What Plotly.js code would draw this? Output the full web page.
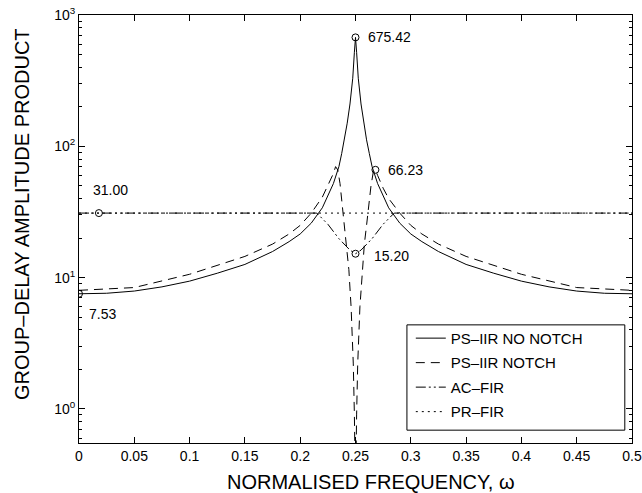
<!DOCTYPE html>
<html>
<head>
<meta charset="utf-8">
<script src="https://cdn.plot.ly/plotly-3.0.1.min.js"></script>
<style>html,body{margin:0;padding:0;background:#fff;}#chart{width:642px;height:493px;}</style>
</head>
<body>
<div id="chart"></div>
<script>
// ---- data ----
const omegaNoNotch = [0, 0.025, 0.05, 0.075, 0.1, 0.125, 0.15, 0.175, 0.19, 0.2, 0.21, 0.22, 0.23, 0.235, 0.2375, 0.24, 0.2425, 0.245, 0.2475, 0.249, 0.25,
  0.251, 0.2525, 0.255, 0.2575, 0.26, 0.2625, 0.265, 0.27, 0.28, 0.29, 0.3, 0.31, 0.325, 0.35, 0.375, 0.4, 0.425, 0.45, 0.475, 0.5];
const gdNoNotch = [7.53, 7.6, 7.9, 8.5, 9.4, 10.8, 12.6, 15.8, 18.8, 21.5, 26, 34, 52, 70, 88, 112, 150, 210, 330, 520, 675.42,
  520, 330, 210, 150, 112, 88, 70, 52, 34, 26, 21.5, 18.8, 15.8, 12.6, 10.8, 9.4, 8.5, 7.9, 7.6, 7.53];

const omegaNotch = [0, 0.05, 0.1, 0.15, 0.175, 0.19, 0.2, 0.21, 0.22, 0.225, 0.23, 0.232, 0.234, 0.236, 0.238, 0.24, 0.242, 0.244, 0.246, 0.248, 0.249, 0.25,
  0.251, 0.252, 0.254, 0.256, 0.258, 0.26, 0.262, 0.264, 0.266, 0.268, 0.27, 0.275, 0.28, 0.29, 0.3, 0.31, 0.325, 0.35, 0.4, 0.45, 0.5];
const gdNotch = [8.0, 8.4, 10.6, 14.5, 18, 21.5, 25, 31, 41, 50, 62, 70, 66, 52, 36, 25, 18, 11.5, 6, 2.2, 0.9, 0.2,
  0.9, 2.2, 6, 11.5, 18, 25, 36, 50, 63, 66.23, 60, 48, 40, 31, 25, 21.5, 18, 14.5, 10.6, 8.4, 8.0];

const omegaAC = [0, 0.215, 0.225, 0.235, 0.245, 0.25, 0.255, 0.265, 0.275, 0.285, 0.5];
const gdAC = [31, 31, 25.5, 19.8, 16.2, 15.2, 16.2, 19.8, 25.5, 31, 31];

const omegaPR = [0, 0.5];
const gdPR = [31, 31];

const markX = [0, 0.018, 0.25, 0.268, 0.25];
const markY = [7.53, 31.00, 675.42, 66.23, 15.20];
const markText = ["7.53", "31.00", "675.42", "66.23", "15.20"];

const seriesNames = ["PS\u2013IIR NO NOTCH", "PS\u2013IIR NOTCH", "AC\u2013FIR", "PR\u2013FIR"];
const xTitle = "NORMALISED FREQUENCY, \u03c9";
const yTitle = "GROUP\u2013DELAY AMPLITUDE PRODUCT";
const xTickVals = [0, 0.05, 0.1, 0.15, 0.2, 0.25, 0.3, 0.35, 0.4, 0.45, 0.5];
const xTickText = ["0", "0.05", "0.1", "0.15", "0.2", "0.25", "0.3", "0.35", "0.4", "0.45", "0.5"];
const yTickVals = [1, 10, 100, 1000];
const yTickText = ["10<sup>0</sup>", "10<sup>1</sup>", "10<sup>2</sup>", "10<sup>3</sup>"];
const yMinorVals = [0.6, 0.7, 0.8, 0.9, 2, 3, 4, 5, 6, 7, 8, 9, 20, 30, 40, 50, 60, 70, 80, 90, 200, 300, 400, 500, 600, 700, 800, 900];

// ---- styling ----
const FONT = "Liberation Sans, Arial, Helvetica, sans-serif";
const line = (dash) => ({color: "#000", width: 1, dash: dash});

const traces = [
  {x: omegaNoNotch, y: gdNoNotch, name: seriesNames[0], mode: "lines", line: line("solid"), legendgroup: "a"},
  {x: omegaNotch, y: gdNotch, name: seriesNames[1], mode: "lines", line: line("9px,6px"), legendgroup: "b"},
  {x: omegaAC, y: gdAC, name: seriesNames[2], mode: "lines", line: line("10px,3px,2px,3px,2px,3px"), legendgroup: "c"},
  {x: omegaPR, y: gdPR, name: seriesNames[3], mode: "lines", line: line("2px,4px"), legendgroup: "d"},
  {x: markX, y: markY, mode: "markers", showlegend: false, hoverinfo: "skip",
   marker: {symbol: "circle-open", size: 7, color: "#000", line: {width: 1, color: "#000"}}}
];

const shifts = [
  {xs: 8, ys: -20},
  {xs: -8, ys: 23},
  {xs: 10, ys: 0},
  {xs: 11, ys: 0},
  {xs: 16, ys: -2}
];
const annotations = markText.map((t, i) => ({
  x: markX[i], y: Math.log10(markY[i]), xref: "x", yref: "y", text: t, showarrow: false,
  xanchor: "left", yanchor: "middle", xshift: shifts[i].xs, yshift: shifts[i].ys,
  font: {family: FONT, size: 14, color: "#000"}
}));
annotations.push({
  x: 0.528, y: 0, xref: "paper", yref: "paper", text: xTitle, showarrow: false,
  xanchor: "center", yanchor: "middle", yshift: -39, font: {family: FONT, size: 20, color: "#000"}
});
annotations.push({
  x: 0, y: 0.535, xref: "paper", yref: "paper", text: yTitle, showarrow: false, textangle: -90,
  xanchor: "center", yanchor: "middle", xshift: -57, font: {family: FONT, size: 20, color: "#000"}
});

const layout = {
  width: 642, height: 493,
  margin: {l: 79, r: 10, t: 15, b: 50},
  paper_bgcolor: "#fff", plot_bgcolor: "#fff",
  font: {family: FONT, size: 14, color: "#000"},
  showlegend: true,
  legend: {x: 0.6, y: 0.283, xanchor: "left", yanchor: "top", bgcolor: "rgba(0,0,0,0)",
           borderwidth: 0, itemwidth: 30, font: {family: FONT, size: 15, color: "#000"},
           tracegroupgap: 2, traceorder: "grouped"},
  xaxis: {
    range: [0, 0.5], tickmode: "array", tickvals: xTickVals, ticktext: xTickText,
    ticks: "inside", ticklen: 6, tickcolor: "#000", showline: true, linecolor: "#000", linewidth: 1,
    mirror: "ticks", showgrid: false, zeroline: false,
    tickfont: {family: FONT, size: 14}
  },
  yaxis: {
    type: "log", range: [Math.log10(0.55), 3], tickmode: "array", tickvals: yTickVals, ticktext: yTickText,
    ticks: "inside", ticklen: 6, tickcolor: "#000", showline: true, linecolor: "#000", linewidth: 1,
    mirror: "ticks", showgrid: false, zeroline: false,
    minor: {tickmode: "array", tickvals: yMinorVals, ticks: "inside", ticklen: 3, tickcolor: "#000", showgrid: false},
    tickfont: {family: FONT, size: 14}
  },
  shapes: [
    {type: "rect", xref: "paper", yref: "paper", x0: 0.593, x1: 0.987, y0: 0.030, y1: 0.276,
     line: {color: "#000", width: 1}, fillcolor: "#fff", layer: "above"}
  ],
  annotations: annotations
};

Plotly.newPlot("chart", traces, layout, {displayModeBar: false, staticPlot: true});
</script>
</body>
</html>
